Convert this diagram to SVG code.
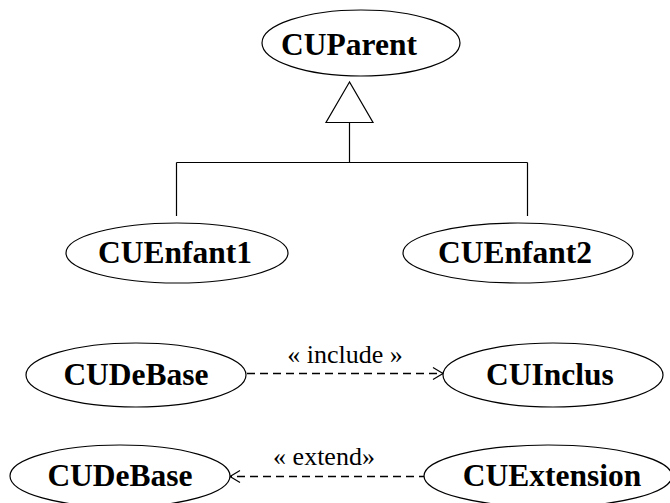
<svg xmlns="http://www.w3.org/2000/svg" width="670" height="503" viewBox="0 0 670 503">
<style>
.node ellipse{fill:#fff;stroke:#000;stroke-width:1.2}
.label{font-family:"Liberation Serif","Times New Roman",serif;font-weight:bold;font-size:31.5px;fill:#000;text-anchor:middle}
.stereo{font-family:"Liberation Serif","Times New Roman",serif;font-size:26px;fill:#000;text-anchor:middle}
.line{fill:none;stroke:#000;stroke-width:1.2}
.dash{fill:none;stroke:#000;stroke-width:1.3;stroke-dasharray:8,5}
</style>
<rect width="670" height="503" fill="#fff"/>
<g id="connectors">
<polygon points="349.5,82 326,122.5 373,122.5" fill="#fff" stroke="#000" stroke-width="1.2"/>
<path class="line" d="M349.5,122.5 V162.5 M176.5,162.5 H527.5 M176.5,162.5 V216 M527.5,162.5 V216"/>
<path class="dash" d="M247,373.5 H443"/>
<path class="line" d="M433,367.5 L443,373.5 L433,379.5"/>
<text class="stereo" x="345" y="363">« include »</text>
<path class="dash" d="M427,476.5 H230"/>
<path class="line" d="M240,470.5 L230,476.5 L240,482.5"/>
<text class="stereo" x="324" y="465">« extend»</text>
</g>
<g id="CUParent" class="node"><ellipse cx="361" cy="43" rx="99" ry="33"/><text class="label" x="349" y="55">CUParent</text></g>
<g id="CUEnfant1" class="node"><ellipse cx="177" cy="253" rx="111" ry="30"/><text class="label" x="175" y="263">CUEnfant1</text></g>
<g id="CUEnfant2" class="node"><ellipse cx="518" cy="253" rx="115" ry="30"/><text class="label" x="515" y="263">CUEnfant2</text></g>
<g id="CUDeBase1" class="node"><ellipse cx="136" cy="375" rx="110" ry="32"/><text class="label" x="136" y="385">CUDeBase</text></g>
<g id="CUInclus" class="node"><ellipse cx="553" cy="375" rx="110" ry="32"/><text class="label" x="550" y="385">CUInclus</text></g>
<g id="CUDeBase2" class="node"><ellipse cx="120" cy="476" rx="110" ry="31"/><text class="label" x="120" y="486">CUDeBase</text></g>
<g id="CUExtension" class="node"><ellipse cx="548" cy="476" rx="124" ry="31"/><text class="label" x="552" y="486">CUExtension</text></g>
</svg>
